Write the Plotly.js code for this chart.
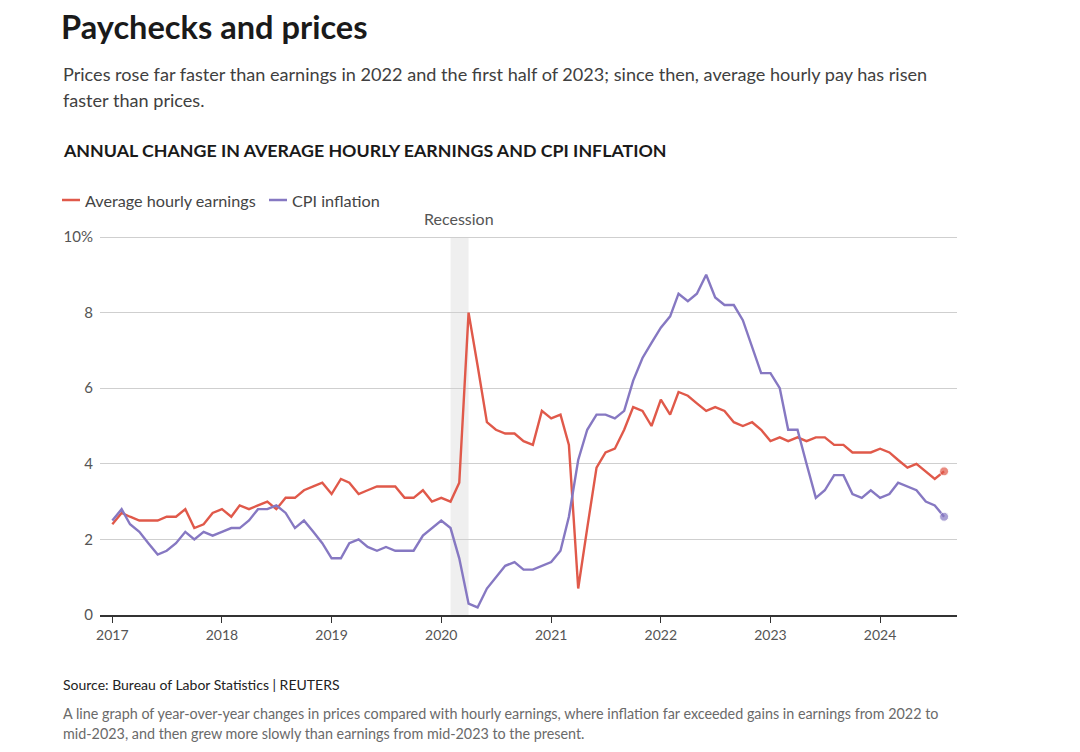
<!DOCTYPE html>
<html>
<head>
<meta charset="utf-8">
<script src="https://cdn.plot.ly/plotly-3.0.1.min.js"></script>
<style>
  html, body { margin: 0; padding: 0; background: #ffffff; }
  #chart { width: 1080px; height: 752px; }
</style>
</head>
<body>
<div id="chart"></div>
<script>
// ---- Data (monthly, Jan 2017 – Aug 2024) ----
const startYear = 2017;
const startMonth = 1;

const hourlyEarnings = [
  2.4, 2.7, 2.6, 2.5, 2.5, 2.5, 2.6, 2.6, 2.8, 2.3, 2.4, 2.7,   // 2017
  2.8, 2.6, 2.9, 2.8, 2.9, 3.0, 2.8, 3.1, 3.1, 3.3, 3.4, 3.5,   // 2018
  3.2, 3.6, 3.5, 3.2, 3.3, 3.4, 3.4, 3.4, 3.1, 3.1, 3.3, 3.0,   // 2019
  3.1, 3.0, 3.5, 8.0, 6.6, 5.1, 4.9, 4.8, 4.8, 4.6, 4.5, 5.4,   // 2020
  5.2, 5.3, 4.5, 0.7, 2.3, 3.9, 4.3, 4.4, 4.9, 5.5, 5.4, 5.0,   // 2021
  5.7, 5.3, 5.9, 5.8, 5.6, 5.4, 5.5, 5.4, 5.1, 5.0, 5.1, 4.9,   // 2022
  4.6, 4.7, 4.6, 4.7, 4.6, 4.7, 4.7, 4.5, 4.5, 4.3, 4.3, 4.3,   // 2023
  4.4, 4.3, 4.1, 3.9, 4.0, 3.8, 3.6, 3.8                        // 2024
];

const cpiInflation = [
  2.5, 2.8, 2.4, 2.2, 1.9, 1.6, 1.7, 1.9, 2.2, 2.0, 2.2, 2.1,   // 2017
  2.2, 2.3, 2.3, 2.5, 2.8, 2.8, 2.9, 2.7, 2.3, 2.5, 2.2, 1.9,   // 2018
  1.5, 1.5, 1.9, 2.0, 1.8, 1.7, 1.8, 1.7, 1.7, 1.7, 2.1, 2.3,   // 2019
  2.5, 2.3, 1.5, 0.3, 0.2, 0.7, 1.0, 1.3, 1.4, 1.2, 1.2, 1.3,   // 2020
  1.4, 1.7, 2.6, 4.1, 4.9, 5.3, 5.3, 5.2, 5.4, 6.2, 6.8, 7.2,   // 2021
  7.6, 7.9, 8.5, 8.3, 8.5, 9.0, 8.4, 8.2, 8.2, 7.8, 7.1, 6.4,   // 2022
  6.4, 6.0, 4.9, 4.9, 4.0, 3.1, 3.3, 3.7, 3.7, 3.2, 3.1, 3.3,   // 2023
  3.1, 3.2, 3.5, 3.4, 3.3, 3.0, 2.9, 2.6                        // 2024
];

const seriesNames = ["Average hourly earnings", "CPI inflation"];
const yearTicks = ["2017", "2018", "2019", "2020", "2021", "2022", "2023", "2024"];
const yTickValues = [0, 2, 4, 6, 8, 10];
const yTickLabels = ["0", "2", "4", "6", "8", "10%"];
const recessionStart = "2020-02-01";
const recessionEnd = "2020-04-01";
const recessionLabel = "Recession";

// ---- Build month dates ----
function monthDates(n) {
  const out = [];
  for (let i = 0; i < n; i++) {
    const total = (startMonth - 1) + i;
    const y = startYear + Math.floor(total / 12);
    const m = (total % 12) + 1;
    out.push(y + "-" + String(m).padStart(2, "0") + "-01");
  }
  return out;
}
const dates = monthDates(hourlyEarnings.length);

// ---- Styling ----
const RED = "#e0594a";
const PURPLE = "#8678c2";
const FONT = "Lato, 'Open Sans', sans-serif";

const W = 1080, H = 752;
const M = { l: 100, r: 123, t: 235, b: 137 };
const PW = W - M.l - M.r, PH = H - M.t - M.b;
const px = (x) => (x - M.l) / PW;        // page px -> paper x
const py = (y) => (H - M.b - y) / PH;    // page px -> paper y
const yTop = 10 * PH / 378;              // keeps the 10% gridline inside the plot

function lastMarkerSizes(arr, s) {
  return arr.map((_, i) => (i === arr.length - 1 ? s : 0));
}

const traces = [
  {
    type: "scatter", mode: "lines+markers", name: seriesNames[0],
    x: dates, y: hourlyEarnings,
    line: { color: RED, width: 2.4 },
    marker: { color: RED, size: lastMarkerSizes(hourlyEarnings, 9) },
    showlegend: false, hovertemplate: "%{x|%b %Y}: %{y}%<extra>" + seriesNames[0] + "</extra>"
  },
  {
    type: "scatter", mode: "lines+markers", name: seriesNames[1],
    x: dates, y: cpiInflation,
    line: { color: PURPLE, width: 2.4 },
    marker: { color: PURPLE, size: lastMarkerSizes(cpiInflation, 9) },
    showlegend: false, hovertemplate: "%{x|%b %Y}: %{y}%<extra>" + seriesNames[1] + "</extra>"
  }
];

function txt(text, x, y, size, color, bold, anchorY) {
  return {
    xref: "paper", yref: "paper", x: px(x), y: py(y),
    xanchor: "left", yanchor: anchorY || "middle",
    text: bold ? "<b>" + text + "</b>" : text,
    showarrow: false, align: "left",
    font: { family: FONT, size: size, color: color }
  };
}

const annotations = [
  txt("Prices rose far faster than earnings in 2022 and the first half of 2023; since then, average hourly pay has risen", 61, 74, 18.1, "#404040"),
  txt("faster than prices.", 61, 100, 18.1, "#404040"),
  txt("ANNUAL CHANGE IN AVERAGE HOURLY EARNINGS AND CPI INFLATION", 61, 150, 17.8, "#1a1a1a", true),
  txt(seriesNames[0], 83, 200, 16.2, "#444444"),
  txt(seriesNames[1], 290, 200, 16.2, "#444444"),
  {
    xref: "x", yref: "y", x: "2020-03-01", y: 10, yanchor: "bottom", xanchor: "center",
    yshift: 7, text: recessionLabel, showarrow: false,
    font: { family: FONT, size: 16, color: "#555555" }
  },
  txt("Source: Bureau of Labor Statistics | REUTERS", 61, 684, 14, "#222222"),
  txt("A line graph of year-over-year changes in prices compared with hourly earnings, where inflation far exceeded gains in earnings from 2022 to", 61, 713, 14.35, "#6a6a6a"),
  txt("mid-2023, and then grew more slowly than earnings from mid-2023 to the present.", 61, 733, 14.35, "#6a6a6a")
];

const shapes = [
  {
    type: "rect", xref: "x", yref: "y", x0: recessionStart, x1: recessionEnd, y0: 0, y1: 10,
    fillcolor: "#efefef", line: { width: 0 }, layer: "below"
  },
  { type: "line", xref: "paper", yref: "paper", x0: px(62), x1: px(80), y0: py(200), y1: py(200), line: { color: RED, width: 2.5 } },
  { type: "line", xref: "paper", yref: "paper", x0: px(269), x1: px(287), y0: py(200), y1: py(200), line: { color: PURPLE, width: 2.5 } }
];

const layout = {
  width: W, height: H,
  margin: M,
  paper_bgcolor: "#ffffff", plot_bgcolor: "#ffffff",
  font: { family: FONT, color: "#444444" },
  title: {
    text: "<b>Paychecks and prices</b>",
    xref: "container", yref: "container",
    x: 61 / W, xanchor: "left",
    y: 1 - 28 / H, yanchor: "middle",
    font: { family: FONT, size: 32.6, color: "#1a1a1a" }
  },
  xaxis: {
    type: "date",
    range: ["2016-11-21", "2024-09-13"],
    tickvals: yearTicks.map(y => y + "-01-01"),
    ticktext: yearTicks,
    ticks: "outside", ticklen: 6, tickwidth: 1.2, tickcolor: "#333333",
    showline: true, linecolor: "#333333", linewidth: 1.5,
    showgrid: false, zeroline: false,
    tickfont: { family: FONT, size: 14, color: "#555555" },
    fixedrange: true
  },
  yaxis: {
    range: [0, yTop],
    tickvals: yTickValues, ticktext: yTickLabels,
    showgrid: true, gridcolor: "#cfcfcf", gridwidth: 1,
    zeroline: false, showline: false, ticks: "",
    ticklabelstandoff: 6,
    tickfont: { family: FONT, size: 15, color: "#555555" },
    fixedrange: true
  },
  shapes: shapes,
  annotations: annotations,
  showlegend: false,
  hovermode: "closest"
};

Plotly.newPlot("chart", traces, layout, { displayModeBar: false, responsive: false });
</script>
</body>
</html>
